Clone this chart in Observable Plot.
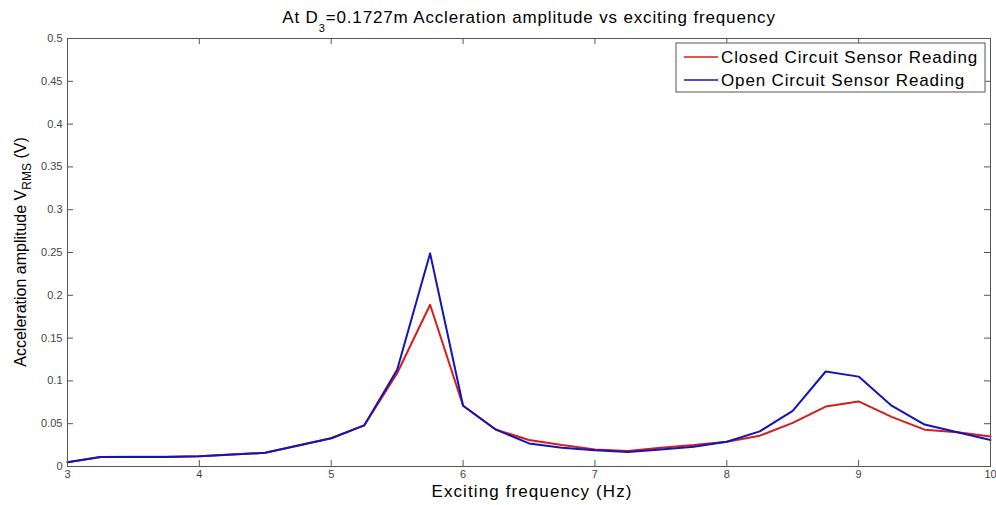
<!DOCTYPE html>
<html><head><meta charset="utf-8">
<script src="https://cdn.jsdelivr.net/npm/d3@7"></script>
<script src="https://cdn.jsdelivr.net/npm/@observablehq/plot@0.6"></script>
<style>
body{margin:0;background:#fff}
#chart{width:996px;height:505px}
</style>
</head><body><div id="chart"></div>
<script>
const freq   = [3,3.25,3.5,3.75,4,4.25,4.5,5,5.25,5.5,5.75,6,6.25,6.5,6.75,7,7.25,7.5,7.75,8,8.25,8.5,8.75,9,9.25,9.5,9.75,10];
const closedCircuit = [0.005,0.011,0.0115,0.0115,0.012,0.014,0.016,0.033,0.048,0.109,0.189,0.071,0.043,0.031,0.025,0.020,0.018,0.022,0.025,0.029,0.036,0.051,0.070,0.076,0.058,0.043,0.040,0.035];
const openCircuit   = [0.005,0.011,0.011,0.011,0.012,0.014,0.016,0.033,0.048,0.113,0.249,0.071,0.043,0.027,0.022,0.019,0.017,0.020,0.023,0.029,0.041,0.065,0.111,0.105,0.071,0.049,0.040,0.031];
const xTicks = [3,4,5,6,7,8,9,10];
const yTicks = [0,0.05,0.1,0.15,0.2,0.25,0.3,0.35,0.4,0.45,0.5];
const seriesNames  = ["Closed Circuit Sensor Reading","Open Circuit Sensor Reading"];
const seriesColors = ["#d81c1c","#1414b8"];

const data = [
  ...freq.map((f,i)=>({f, v: closedCircuit[i], s: seriesNames[0]})),
  ...freq.map((f,i)=>({f, v: openCircuit[i],   s: seriesNames[1]}))
];

const W=996, H=505, mL=67, mR=6, mT=38, mB=39;
const fw = W-mL-mR, fh = H-mT-mB, tk = 6;
const font = "'Liberation Sans', Arial, sans-serif";

const plot = Plot.plot({
  width: W, height: H,
  marginLeft: mL, marginRight: mR, marginTop: mT, marginBottom: mB,
  style: {fontFamily: font, fontSize: "11px", background: "#fff", color: "#444"},
  x: {domain: [3,10]},
  y: {domain: [0,0.5]},
  color: {domain: seriesNames, range: seriesColors},
  marks: [
    Plot.ruleX(xTicks, {stroke:"#555", insetTop: fh-tk}),
    Plot.ruleX(xTicks, {stroke:"#555", insetBottom: fh-tk}),
    Plot.ruleY(yTicks, {stroke:"#555", insetRight: fw-tk}),
    Plot.ruleY(yTicks, {stroke:"#555", insetLeft: fw-tk}),
    Plot.axisX(xTicks, {anchor:"bottom", tickSize:0, tickPadding:4, label:null, tickFormat:d=>String(d)}),
    Plot.axisY(yTicks, {anchor:"left", tickSize:0, tickPadding:5, label:null, tickFormat:d=>String(d)}),
    Plot.line(data, {x:"f", y:"v", z:"s", stroke:"s", strokeWidth:2}),
    Plot.frame({stroke:"#555"})
  ]
});
document.getElementById("chart").appendChild(plot);

const svg = d3.select(plot);
// Title
const t = svg.append("text").attr("x", 529).attr("y", 23).attr("text-anchor","middle")
  .style("font-family", font).style("font-size","17px").style("letter-spacing","0.85px").attr("fill","#000");
t.append("tspan").text("At D");
t.append("tspan").attr("dy", 9).style("font-size","11px").text("3");
t.append("tspan").attr("dy", -9).text("=0.1727m Accleration amplitude vs exciting frequency");
// X label
svg.append("text").attr("x", 532).attr("y", 497).attr("text-anchor","middle")
  .style("font-family", font).style("font-size","17px").style("letter-spacing","1.1px").attr("fill","#000")
  .text("Exciting frequency (Hz)");
// Y label
const yl = svg.append("text").attr("transform", `translate(26,${mT+fh/2}) rotate(-90)`).attr("text-anchor","middle")
  .style("font-family", font).style("font-size","16px").attr("fill","#000");
yl.append("tspan").text("Acceleration amplitude V");
yl.append("tspan").attr("dy", 5).style("font-size","12px").text("RMS");
yl.append("tspan").attr("dy", -5).text(" (V)");
// Legend
const lg = svg.append("g");
lg.append("rect").attr("x",676).attr("y",43).attr("width",309).attr("height",49)
  .attr("fill","#fff").attr("stroke","#555");
seriesNames.forEach((name,i)=>{
  const cy = 57 + i*23;
  lg.append("line").attr("x1",684).attr("x2",718).attr("y1",cy).attr("y2",cy)
    .attr("stroke", seriesColors[i]).attr("stroke-width",1.5);
  lg.append("text").attr("x",721).attr("y",cy+6).attr("text-anchor","start")
    .style("font-family", font).style("font-size","17px").style("letter-spacing","0.85px").attr("fill","#000").text(name);
});
</script>
</body></html>
